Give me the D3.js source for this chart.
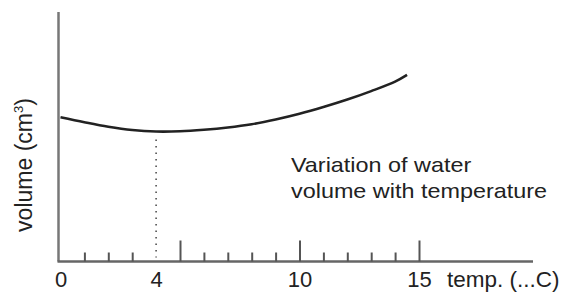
<!DOCTYPE html>
<html>
    <head>
        <script src="https://cdn.jsdelivr.net/npm/d3@7"></script>
        <style>
            body { margin: 0; background: #fff; }
            text { font-family: "Liberation Sans", Arial, sans-serif; fill: #222; }
        </style>
    </head>
    <body>
        <div class="chart"></div>
    </body>
    <script>
        // values (volume in arbitrary units, drawing is schematic)
        const temps = [0, 1, 2, 3, 4, 5, 6, 7, 8, 9, 10, 11, 12, 13, 14, 14.5];
        const volumes = [57.8, 55.8, 54.0, 52.7, 52.1, 52.2, 52.8, 53.7, 55.0, 56.9, 59.2, 61.9, 64.9, 68.3, 72.1, 74.8];
        const minorTicks = [1, 2, 3, 6, 7, 8, 9, 11, 12, 13, 14];
        const majorTicks = [5, 10, 15];
        const tickLabels = [0, 4, 10, 15];
        const minTemp = 4;

        const width = 567, height = 295;
        const baseY = 261.5;

        const x = d3.scaleLinear().domain([0, 15]).range([60.5, 419]);
        const y = d3.scaleLinear().domain([0, 100]).range([baseY, 12]);

        const svg = d3.select(".chart").append("svg")
            .attr("width", width).attr("height", height);

        // y axis line
        svg.append("line")
            .attr("x1", 58.5).attr("x2", 58.5)
            .attr("y1", y(100)).attr("y2", baseY)
            .attr("stroke", "#777").attr("stroke-width", 2.5);

        // x axis line, runs past the last tick
        svg.append("line")
            .attr("x1", 57.5).attr("x2", 533)
            .attr("y1", baseY).attr("y2", baseY)
            .attr("stroke", "#666").attr("stroke-width", 2.5);

        // minor and major ticks pointing up
        const minorAxis = d3.axisBottom(x).tickValues(minorTicks).tickSize(-9).tickFormat("");
        const majorAxis = d3.axisBottom(x).tickValues(majorTicks).tickSize(-21).tickFormat("");
        [minorAxis, majorAxis].forEach(ax => {
            svg.append("g")
                .attr("transform", `translate(0,${baseY})`)
                .call(ax)
                .call(g => g.select(".domain").remove())
                .call(g => g.selectAll(".tick line").attr("stroke", "#555").attr("stroke-width", 2));
        });

        // tick labels
        svg.append("g")
            .attr("transform", `translate(0,${baseY})`)
            .call(d3.axisBottom(x).tickValues(tickLabels).tickSize(0).tickPadding(0).tickFormat(d3.format("d")))
            .call(g => g.select(".domain").remove())
            .call(g => g.selectAll(".tick text")
                .attr("y", 0).attr("dy", 25.5)
                .attr("font-size", 22)
                .attr("fill", "#222")
                .attr("font-family", "Liberation Sans, Arial, sans-serif"));

        svg.append("text")
            .attr("x", 447).attr("y", 287)
            .attr("font-size", 22.5)
            .text("temp. (...C)");

        // y label
        const yl = svg.append("text")
            .attr("transform", "translate(32,165) rotate(-90)")
            .attr("text-anchor", "middle")
            .attr("font-size", 23);
        yl.append("tspan").text("volume (cm");
        yl.append("tspan").attr("font-size", 13).attr("dy", -9).text("3");
        yl.append("tspan").attr("dy", 9).text(")");

        // the curve
        const pts = temps.map((t, i) => [t, volumes[i]]);
        svg.append("path")
            .datum(pts)
            .attr("fill", "none")
            .attr("stroke", "#222")
            .attr("stroke-width", 2.6)
            .attr("d", d3.line().x(d => x(d[0])).y(d => y(d[1])).curve(d3.curveCatmullRom));

        // dotted drop line at 4 degrees
        const vMin = volumes[temps.indexOf(minTemp)];
        svg.append("line")
            .attr("x1", x(minTemp)).attr("x2", x(minTemp))
            .attr("y1", y(vMin) + 8).attr("y2", baseY - 4)
            .attr("stroke", "#444").attr("stroke-width", 1.5)
            .attr("stroke-dasharray", "1.5,5");

        // annotation
        const note = svg.append("g").attr("transform", "translate(291,0) scale(1.17,1)");
        note.append("text").attr("x", 0).attr("y", 172).attr("font-size", 20).text("Variation of water");
        note.append("text").attr("x", 0).attr("y", 198).attr("font-size", 20).text("volume with temperature");
    </script>
</html>
